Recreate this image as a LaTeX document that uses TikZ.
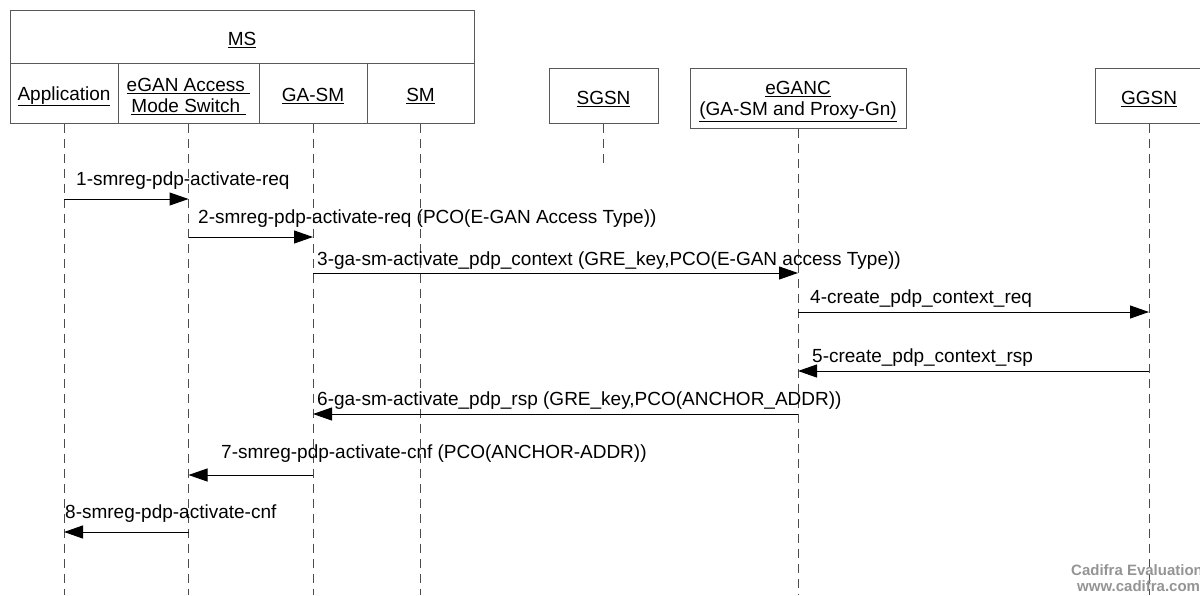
\documentclass[tikz,border=0pt]{standalone}
\usepackage{fontspec}
\setmainfont{Liberation Sans}
\usetikzlibrary{arrows.meta}

\tikzset{
 unit/.style={draw=black!65, line width=1pt, inner sep=0pt, anchor=center, align=center,
 execute at begin node={\rule{0pt}{20pt}}},
 life/.style={draw=black!70, line width=1pt, dash pattern=on 9pt off 6pt},
 msg/.style={draw=black, line width=1pt, -{Triangle[length=19pt,width=13pt]}},
 lbl/.style={anchor=base west, inner sep=0pt},
 mark text/.style={anchor=base west, inner sep=0pt, text=black!42, font=\fontsize{15}{17}\selectfont\bfseries},
}
\newcommand{\lowstrut}{\rule{0pt}{20pt}}

\begin{document}
\begin{tikzpicture}[x=1pt,y=-1pt,font=\fontsize{19}{21}\selectfont]
 \useasboundingbox (0,0) rectangle (1200,595);
 % MS and its parts
 \node[unit, minimum width=464pt, minimum height=53pt] (ms) at (242,36.5) {\underline{MS}};
 \node[unit, minimum width=108pt, minimum height=60pt] (app) at (64,93) {\underline{Application}};
 \node[unit, minimum width=141pt, minimum height=60pt] (sw) at (188.5,93) {\lowstrut\underline{eGAN Access~}\\\underline{Mode Switch~}};
 \node[unit, minimum width=108pt, minimum height=60pt] (gasm) at (313,93) {\underline{GA-SM}};
 \node[unit, minimum width=107pt, minimum height=60pt] (sm) at (420.5,93) {\underline{SM}};
 % network side
 \node[unit, minimum width=109pt, minimum height=55pt] (sgsn) at (603.5,95.5) {\underline{SGSN}};
 \node[unit, minimum width=216pt, minimum height=60pt] (eganc) at (798,98) {\lowstrut\underline{eGANC}\\\underline{(GA-SM and Proxy-Gn)}};
 \node[unit, minimum width=108pt, minimum height=55pt] (ggsn) at (1149,95.5) {\underline{GGSN}};

 % lifelines
 \coordinate (bot) at (0,595);
 \coordinate (sgsnend) at (0,167);
 \foreach \n in {app,sw,gasm,sm,eganc,ggsn} {
 \draw[life] (\n.south) -- (\n.south |- bot);
 }
 \draw[life] (sgsn.south) -- (sgsn.south |- sgsnend);

 % message rows
 \foreach \r/\y in {1/199,2/237,3/273,4/312,5/371,6/414,7/475,8/532} {
 \coordinate (r\r) at (0,\y);
 }

 % messages
 \draw[msg] (app |- r1) -- (sw |- r1);
 \draw[msg] (sw |- r2) -- (gasm |- r2);
 \draw[msg] (gasm |- r3) -- (eganc |- r3);
 \draw[msg] (eganc |- r4) -- (ggsn |- r4);
 \draw[msg] (ggsn |- r5) -- (eganc |- r5);
 \draw[msg] (eganc |- r6) -- (gasm |- r6);
 \draw[msg] (gasm |- r7) -- (sw |- r7);
 \draw[msg] (sw |- r8) -- (app |- r8);

 % the labels
 \node[lbl] (l1) at (76,185) {1-smreg-pdp-activate-req};
 \node[lbl] (l2) at (198,223) {2-smreg-pdp-activate-req (PCO(E-GAN Access Type))};
 \node[lbl] (l3) at (317,265) {3-ga-sm-activate\_pdp\_context (GRE\_key,PCO(E-GAN access Type))};
 \node[lbl] (l4) at (810,303) {4-create\_pdp\_context\_req};
 \node[lbl] (l5) at (812,362) {5-create\_pdp\_context\_rsp};
 \node[lbl] (l6) at (317,405) {6-ga-sm-activate\_pdp\_rsp (GRE\_key,PCO(ANCHOR\_ADDR))};
 \node[lbl] (l7) at (221,458) {7-smreg-pdp-activate-cnf (PCO(ANCHOR-ADDR))};
 \node[lbl] (l8) at (65,518) {8-smreg-pdp-activate-cnf};

 % watermark
 \node[mark text] (wm1) at (1071,575) {Cadifra Evaluation};
 \node[mark text] (wm2) at (1077,591) {www.cadifra.com};
\end{tikzpicture}
\end{document}
